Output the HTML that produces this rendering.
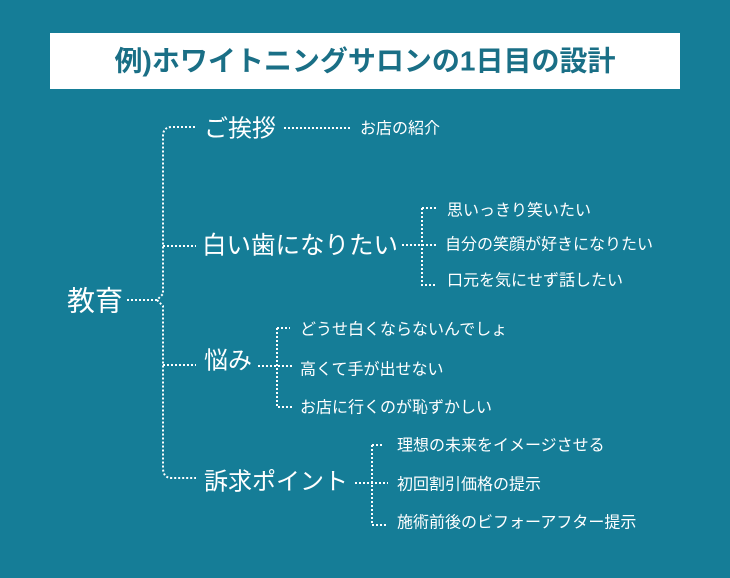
<!DOCTYPE html>
<html><head><meta charset="utf-8"><style>
html,body{margin:0;padding:0;background:#157d97;}
svg{display:block}
text{font-family:"Liberation Sans","Noto Sans CJK JP",sans-serif;fill:#fff;dominant-baseline:central}
.d{stroke:#fff;stroke-width:2;stroke-dasharray:2 2;fill:none}
</style></head><body>
<svg width="730" height="578" viewBox="0 0 730 578">
<rect width="730" height="578" fill="#157d97"/>
<rect x="50" y="33" width="630" height="56" fill="#fff"/>
<text x="365" y="61" text-anchor="middle" font-size="28" font-weight="bold" style="fill:#1a6f86">例)ホワイトニングサロンの1日目の設計</text>

<text x="67" y="301" font-size="28">教育</text>
<path class="d" d="M127 300 H157 L163 294 V136 Q163 127 172 127 H196"/>
<path class="d" d="M157 300 L163 306 V468 Q163 478 172 478 H196"/>
<path class="d" d="M163 246 H196 M163 365 H196"/>

<text x="204" y="129" font-size="24">ご挨拶</text>
<path class="d" d="M284 128 H352"/>
<text x="360" y="129" font-size="16">お店の紹介</text>

<text x="202" y="246" font-size="24.5">白い歯になりたい</text>
<path class="d" d="M402 245 H437 M422 208 H437 M422 208 V285 H437"/>
<text x="447" y="211" font-size="16">思いっきり笑いたい</text>
<text x="445" y="245" font-size="16">自分の笑顔が好きになりたい</text>
<text x="447" y="281" font-size="16">口元を気にせず話したい</text>

<text x="204" y="361" font-size="24">悩み</text>
<path class="d" d="M258 366 H292 M277 328 H290 M277 328 V407 H292"/>
<text x="300" y="330" font-size="16">どうせ白くならないんでしょ</text>
<text x="300" y="370" font-size="16">高くて手が出せない</text>
<text x="300" y="408" font-size="16">お店に行くのが恥ずかしい</text>

<text x="204" y="482" font-size="24">訴求ポイント</text>
<path class="d" d="M355 483 H388 M372 445 H384 M372 445 V525 H388"/>
<text x="397" y="446" font-size="16">理想の未来をイメージさせる</text>
<text x="397" y="485" font-size="16">初回割引価格の提示</text>
<text x="397" y="523" font-size="16">施術前後のビフォーアフター提示</text>
</svg>
</body></html>
